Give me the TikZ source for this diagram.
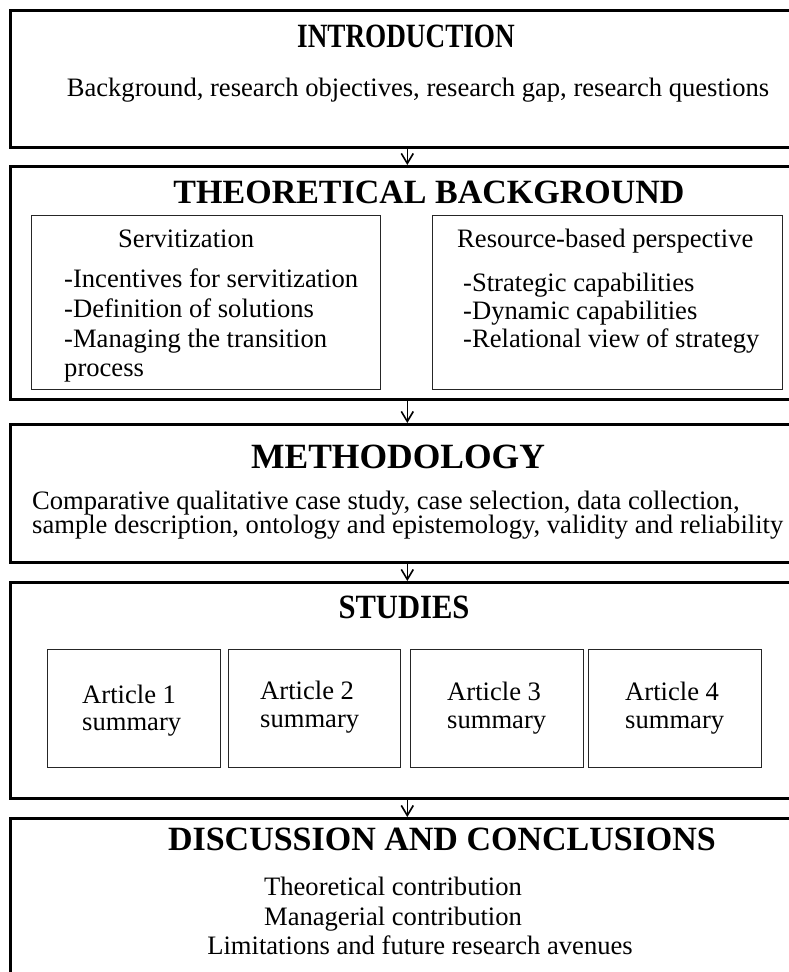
\documentclass[tikz,border=0pt]{standalone}
\usepackage{fontspec}
\setmainfont{Liberation Serif}
\newfontfamily\narrowserif{Liberation Serif}[FakeStretch=0.8]
\newfontfamily\semiserif{Liberation Serif}[FakeStretch=0.9]
\usetikzlibrary{arrows.meta}
\begin{document}
\begin{tikzpicture}[x=1pt,y=-1pt,
  frame/.style={draw=black, line width=2.6pt, minimum width=794pt, anchor=north west, inner sep=0pt},
  subbox/.style={draw=black!85, line width=1.4pt, anchor=north west, inner sep=0pt},
  head/.style={font=\fontsize{34}{34}\bfseries\selectfont, anchor=base, inner sep=0pt},
  narrowhead/.style={font=\narrowserif\fontsize{34}{34}\bfseries\selectfont, anchor=base, inner sep=0pt},
  semihead/.style={font=\semiserif\fontsize{34}{34}\bfseries\selectfont, anchor=base, inner sep=0pt},
  txt/.style={font=\fontsize{26.6}{26.6}\selectfont, anchor=base west, inner sep=0pt},
  ctxt/.style={font=\fontsize{26.6}{26.6}\selectfont, anchor=base, inner sep=0pt},
  flow/.style={line width=1.6pt, -{Straight Barb[length=10pt,width=12pt,line width=1.6pt]}}]
\useasboundingbox (0,0) rectangle (789,972);
\clip (0,0) rectangle (789,972);

% outer section frames
\node[frame, minimum height=137pt] (intro) at (9,9) {};
\node[frame, minimum height=233pt] (theo)  at (9,165) {};
\node[frame, minimum height=138pt] (meth)  at (9,423) {};
\node[frame, minimum height=216pt] (stud)  at (9,581) {};
\node[frame, minimum height=200pt] (disc)  at (9,817) {};

% introduction
\node[narrowhead] (introT) at (406,47) {INTRODUCTION};
\node[ctxt] (introB) at (418,96) {Background, research objectives, research gap, research questions};

% theoretical background
\node[head] (theoT) at (429,203) {THEORETICAL BACKGROUND};
\node[subbox, minimum width=349pt, minimum height=174pt] (serv) at (31,215) {};
\node[subbox, minimum width=350pt, minimum height=174pt] (res)  at (432,215) {};
\node[txt] (servT) at (118,247) {Servitization};
\node[txt] (serv1) at (64,287) {-Incentives for servitization};
\node[txt] (serv2) at (64,317) {-Definition of solutions};
\node[txt] (serv3) at (64,347) {-Managing the transition};
\node[txt] (serv4) at (64,376) {process};
\node[txt] (resT) at (457,247) {Resource-based perspective};
\node[txt] (res1) at (463,291) {-Strategic capabilities};
\node[txt] (res2) at (463,319) {-Dynamic capabilities};
\node[txt] (res3) at (463,347) {-Relational view of strategy};

% methodology
\node[head, font=\fontsize{35.5}{35.5}\bfseries\selectfont] (methT) at (398,468) {METHODOLOGY};
\node[txt] (meth1) at (32,509) {Comparative qualitative case study, case selection, data collection,};
\node[txt] (meth2) at (32,533) {sample description, ontology and epistemology, validity and reliability};

% studies
\node[semihead] (studT) at (404,618) {STUDIES};
\node[subbox, minimum width=173pt, minimum height=118pt] (a1) at (47,649) {};
\node[subbox, minimum width=172pt, minimum height=118pt] (a2) at (228,649) {};
\node[subbox, minimum width=173pt, minimum height=118pt] (a3) at (410,649) {};
\node[subbox, minimum width=173pt, minimum height=118pt] (a4) at (588,649) {};
\node[txt] (a1a) at (82,703) {Article 1};
\node[txt] (a1b) at (82,730) {summary};
\node[txt] (a2a) at (260,699) {Article 2};
\node[txt] (a2b) at (260,727) {summary};
\node[txt] (a3a) at (447,700) {Article 3};
\node[txt] (a3b) at (447,728) {summary};
\node[txt] (a4a) at (625,700) {Article 4};
\node[txt] (a4b) at (625,728) {summary};

% discussion and conclusions
\node[head] (discT) at (442,850) {DISCUSSION AND CONCLUSIONS};
\node[ctxt] (disc1) at (393,895) {Theoretical contribution};
\node[ctxt] (disc2) at (393,925) {Managerial contribution};
\node[ctxt] (disc3) at (420,954) {Limitations and future research avenues};

% flow between sections
\draw[flow] (intro.south) -- (theo.north);
\draw[flow] (theo.south) -- (meth.north);
\draw[flow] (meth.south) -- (stud.north);
\draw[flow] (stud.south) -- (disc.north);
\end{tikzpicture}
\end{document}
